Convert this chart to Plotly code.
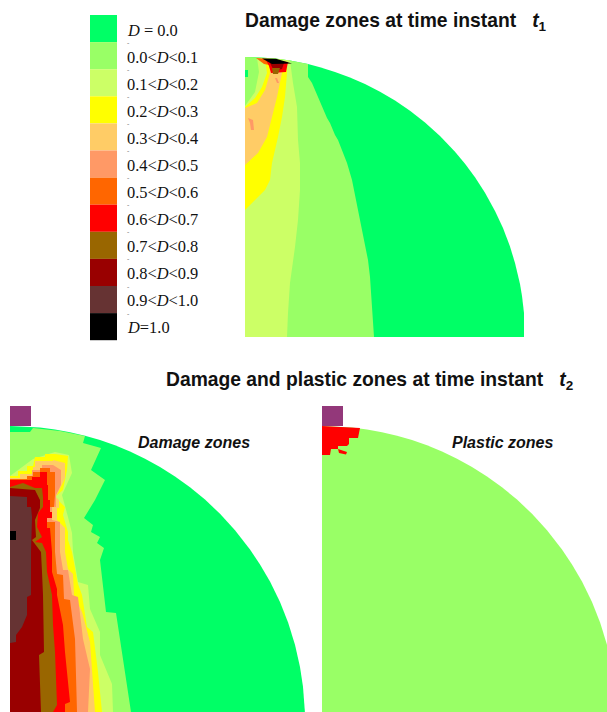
import plotly.graph_objects as go

# ---------- legend ----------
legend_labels = ["<i>D</i> = 0.0", "0.0&lt;<i>D</i>&lt;0.1", "0.1&lt;<i>D</i>&lt;0.2", "0.2&lt;<i>D</i>&lt;0.3",
                 "0.3&lt;<i>D</i>&lt;0.4", "0.4&lt;<i>D</i>&lt;0.5", "0.5&lt;<i>D</i>&lt;0.6", "0.6&lt;<i>D</i>&lt;0.7",
                 "0.7&lt;<i>D</i>&lt;0.8", "0.8&lt;<i>D</i>&lt;0.9", "0.9&lt;<i>D</i>&lt;1.0", "<i>D</i>=1.0"]
legend_colors = ["#00FF66", "#99FF66", "#CCFF66", "#FFFF00", "#FFCC66", "#FF9966",
                 "#FF6600", "#FF0000", "#996600", "#990000", "#663333", "#000000"]
PURPLE = "#93387A"

# ---------- outlines (pixel space) ----------
arc_top = [(245,57),(260,57.4),(275,58.6),(290,60.6),(308,64),(320,67.2),(335,72),(350,77.4),(365,84),(380,91.7),
           (395,100.6),(410,110.8),(425,122.5),(440,136),(455,151.8),(465,163.8),(475,177.3),(485,192.8),(495,211),
           (503,228),(510,246.6),(515,263),(520,284),(522,296),(524,313),(524,337),(245,337)]
top_light = [(245,57),(260,57.4),(275,58.6),(290,60.6),(308,64),(308,77),(312,83),(315,90),(319,100),(322,108),(327,118),(330,123),
             (335,135),(338,140),(343,152),(347,163),(352,180),(356,200),(360,220),(368,260),(370,277),(372,303),(374,337),(245,337)]
top_lime = [(245,106),(255,92),(259,72),(257,58),(275,58.6),(290,60.6),(293,83),(297,107),(298,140),(300,163),(300,190),
            (298,220),(295,247),(290,283),(288,313),(287,337),(245,337)]
top_yellow = [(245,107),(255,98),(262,87),(267,73),(265,60),(287,62),(287,73),(285,97),(282,117),(278,137),(272,163),
              (270,180),(265,190),(255,200),(245,210)]
top_peach = [(245,108),(257,103),(265,90),(270,73),(269,62),(283,64),(282,73),(277,97),(272,117),(267,137),(258,153),(245,165)]
top_spot = [(245,70),(248,70),(248,77),(245,77)]
top_orange = [(256,58),(270,59),(275,66),(264,64)]
top_red = [(266,60),(288,62),(286,72),(271,73),(269,66)]
top_dark = [(270,63),(284,63),(282,69),(274,71)]
top_brown = [(272,68),(280,68),(278,74),(273,74)]
top_black = [(262,58.5),(276,58.8),(292,63.5),(272,64)]
top_speck1 = [(275,78),(277,78),(279,83),(277,83)]
top_speck2 = [(248,118),(253,120),(254,130),(251,130),(250,123)]

d2_arc_dx = [0,15,30,45,60,75,90,105,120,135,150,165,180,195,210,225,240,250,260,270,278,285,290,293,294.9,294.9,0]
d2_arc_y = [426,426.4,427.5,429.5,432.2,435.7,440.1,445.3,451.5,458.7,467,476.5,487.3,499.6,513.8,530.2,549.5,
            564.4,581.6,602,622.3,644.8,667,686.7,712,712,712]
d2_light = [(10,432),(30,432),(33,428),(60,431),(85,436),(83,443),(101,448),(91,470),(105,480),(95,500),(84,518),(93,525),
            (91,532),(100,537),(97,543),(104,548),(100,560),(106,612),(116,613),(131,712)]
d2_lime = [(10,476),(33,459),(55,452),(69,455),(72,473),(62,495),(68,517),(72,533),(73,552),(78,582),(88,585),(90,609),
           (100,632),(100,655),(112,684),(113,712)]
d2_yellow = [(10,476),(18,476),(18,471),(27,471),(27,466),(33,466),(35,457),(45,457),(45,454),(55,454),(68,456),(67,470),
             (63,490),(55,497),(65,507),(63,515),(68,532),(68,540),
             (72,552),(78,584),(82,595),(87,627),(93,632),(98,672),(102,712)]
d2_peach = [(10,478),(20,478),(20,474),(33,474),(33,467),(35,467),(35,461),(53,461),(53,460),(65,463),(65,478),(60,488),
            (56,497),(59,500),(59,508),(57,508),(57,520),(65,528),(65,552),
            (68,569),(73,574),(74,595),(82,612),(90,642),(95,712)]
d2_salmon = [(10,479),(32,479),(32,470),(42,470),(42,465),(53,465),(61,470),(61,485),(56,495),(56,507),
             (52,507),(52,520),(60,522),(60,552),(63,570),(68,570),
             (72,595),(78,597),(83,639),(90,669),(88,712)]
d2_orange = [(10,479),(27,479),(27,476),(33,476),(33,472),(40,472),(40,468),(50,468),(50,472),(55,472),(55,495),
             (54,507),(50,507),(50,516),(47,516),(47,522),(55,522),(55,552),(57,574),
             (63,575),(64,599),(70,600),(75,639),(77,712)]
d2_red = [(10,480),(32,480),(32,477),(40,477),(40,472),(47,472),(47,485),(48,485),(48,500),(50,500),(50,512),(52,512),
          (52,518),(47,518),(47,528),(50,528),(52,552),(52,572),(57,589),(57,595),
          (63,625),(65,652),(70,702),(65,704),(65,712)]
d2_brown = [(10,487),(23,483),(35,488),(42,488),(43,497),(43,507),(38,513),(37,527),(42,537),(35,542),(42,543),(46,552),
            (47,572),(52,595),(53,625),(55,652),(57,705),(53,712)]
d2_darkred = [(10,488),(35,490),(40,500),(40,508),(35,520),(36,537),(32,540),(41,552),(42,572),(43,595),(44,652),(39,655),(41,712)]
d2_maroon = [(10,496),(27,497),(27,507),(31,507),(32,517),(31,552),(31,595),(27,597),(27,615),(22,627),(16,635),(16,642),(10,643)]
d2_black = [(10,531),(16,531),(16,540),(10,540)]
d2_block = [(10,406),(31,406),(31,426),(10,426)]

pl_block = [(322,406),(343,406),(343,426),(322,426)]
pl_red = [(322,426),(360,428),(358,438),(349,438),(349,444),(347,446),(338,446),(338,449),(331,449),(330,455),(322,455)]
pl_red2 = [(338,449),(347,452),(346,454.5),(339,453)]

titles = ["Damage zones at time instant&nbsp;&nbsp;&nbsp;<i>t</i><sub>1</sub>",
          "Damage and plastic zones at time instant&nbsp;&nbsp;&nbsp;<i>t</i><sub>2</sub>"]
subtitles = ["Damage zones", "Plastic zones"]

fig = go.Figure()


def poly(points, color, close_to=None):
    pts = list(points)
    if close_to is not None:
        pts.append(close_to)
    fig.add_trace(go.Scatter(x=[p[0] for p in pts], y=[p[1] for p in pts], mode="lines", fill="toself",
                             fillcolor=color, line=dict(width=0, color=color), hoverinfo="skip", showlegend=False))


# legend swatches
fig.add_trace(go.Bar(x=[103.5] * 12, y=[27.1] * 12, base=[15 + 27.1 * i for i in range(12)], width=27,
                     marker=dict(color=legend_colors, line=dict(width=0)), hoverinfo="skip", showlegend=False))

# top disc
C = legend_colors
poly(arc_top, C[0])
poly(top_light, C[1])
poly(top_lime, C[2])
poly(top_yellow, C[3])
poly(top_peach, C[4])
poly(top_spot, C[0])
poly(top_orange, C[6])
poly(top_red, C[7])
poly(top_dark, C[9])
poly(top_brown, C[8])
poly(top_black, C[11])
poly(top_speck1, C[5])
poly(top_speck2, C[5])

# damage disc
poly([(10 + dx, y) for dx, y in zip(d2_arc_dx, d2_arc_y)], C[0])
corner = (10, 712)
for pts, c in [(d2_light, C[1]), (d2_lime, C[2]), (d2_yellow, C[3]), (d2_peach, C[4]), (d2_salmon, C[5]),
               (d2_orange, C[6]), (d2_red, C[7]), (d2_brown, C[8]), (d2_darkred, C[9]), (d2_maroon, C[10])]:
    poly(pts, c, corner)
poly(d2_black, C[11])
poly(d2_block, PURPLE)

# plastic disc
poly([(322 + dx, y) for dx, y in zip(d2_arc_dx, d2_arc_y)], C[1])
poly(pl_block, PURPLE)
poly(pl_red, C[7])
poly(pl_red2, C[7])

ann = []
for i, lab in enumerate(legend_labels):
    ann.append(dict(x=125, y=30 + 27.05 * i, text=lab, xanchor="left", yanchor="middle", showarrow=False,
                    font=dict(family="Liberation Serif", size=16.4, color="#111111")))
    if i:
        ann.append(dict(x=128, y=15 + 27.1 * i + 0.5, text="-", xanchor="center", yanchor="middle", showarrow=False,
                        font=dict(family="Liberation Serif", size=7, color="#555555")))
bold = dict(family="Liberation Sans", size=19.3, color="#111111", weight="bold")
bi = dict(family="Liberation Sans", size=16, color="#111111", weight="bold", style="italic")
ann.append(dict(x=243, y=22, text=titles[0], xanchor="left", yanchor="middle", showarrow=False, font=bold))
ann.append(dict(x=164, y=381, text=titles[1], xanchor="left", yanchor="middle", showarrow=False, font=bold))
ann.append(dict(x=136, y=442, text=subtitles[0], xanchor="left", yanchor="middle", showarrow=False, font=bi))
ann.append(dict(x=450, y=442, text=subtitles[1], xanchor="left", yanchor="middle", showarrow=False, font=bi))

fig.update_layout(width=607, height=712, margin=dict(l=0, r=0, t=0, b=0), autosize=False,
                  paper_bgcolor="white", plot_bgcolor="white", barmode="overlay", annotations=ann,
                  xaxis=dict(range=[0, 607], visible=False, fixedrange=True),
                  yaxis=dict(range=[712, 0], visible=False, fixedrange=True))
fig.write_html("out.html", config={"displayModeBar": False},
               post_script="document.body.style.margin='0';document.body.style.overflow='hidden';")
